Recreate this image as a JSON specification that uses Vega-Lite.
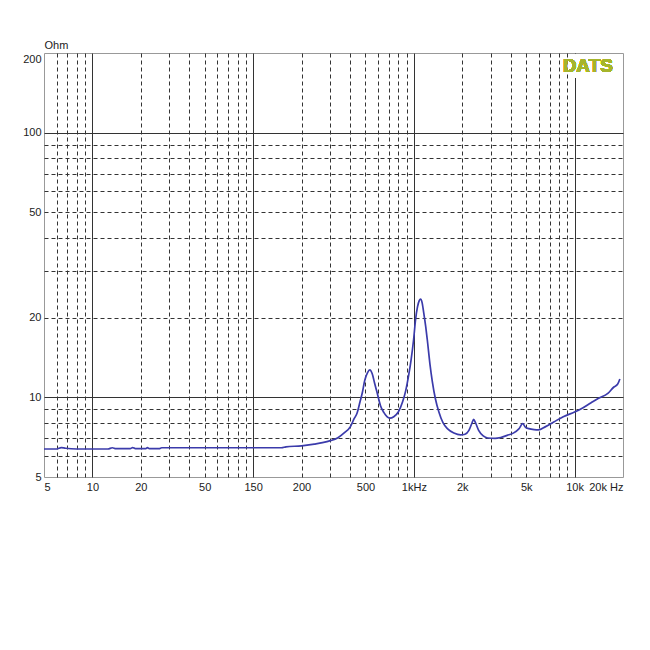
{
  "$schema": "https://vega.github.io/schema/vega-lite/v6.json",
  "width": 579,
  "height": 424,
  "autosize": "none",
  "padding": {"left": 44, "top": 53, "right": 27, "bottom": 173},
  "background": "white",
  "data": {
    "values": [
      {"hz": 5, "ohm": 6.38}, {"hz": 6, "ohm": 6.38}, {"hz": 6.4, "ohm": 6.46}, {"hz": 6.8, "ohm": 6.42},
      {"hz": 8, "ohm": 6.38}, {"hz": 10, "ohm": 6.38}, {"hz": 12.5, "ohm": 6.38}, {"hz": 13.3, "ohm": 6.45},
      {"hz": 14, "ohm": 6.4}, {"hz": 17.2, "ohm": 6.4}, {"hz": 17.8, "ohm": 6.46}, {"hz": 18.5, "ohm": 6.4},
      {"hz": 21.5, "ohm": 6.4}, {"hz": 22, "ohm": 6.46}, {"hz": 22.6, "ohm": 6.4}, {"hz": 26, "ohm": 6.4},
      {"hz": 27, "ohm": 6.45}, {"hz": 60, "ohm": 6.45}, {"hz": 100, "ohm": 6.45}, {"hz": 150, "ohm": 6.45},
      {"hz": 160, "ohm": 6.5}, {"hz": 200, "ohm": 6.56}, {"hz": 240, "ohm": 6.66}, {"hz": 270, "ohm": 6.74},
      {"hz": 303, "ohm": 6.86}, {"hz": 335, "ohm": 7.02}, {"hz": 370, "ohm": 7.35}, {"hz": 403, "ohm": 7.75},
      {"hz": 425, "ohm": 8.3}, {"hz": 444, "ohm": 8.74}, {"hz": 462, "ohm": 9.6}, {"hz": 477, "ohm": 10.36},
      {"hz": 495, "ohm": 11.6}, {"hz": 515, "ohm": 12.4}, {"hz": 532, "ohm": 12.7}, {"hz": 550, "ohm": 12.3},
      {"hz": 570, "ohm": 11.3}, {"hz": 591, "ohm": 10.4}, {"hz": 620, "ohm": 9.3}, {"hz": 650, "ohm": 8.77},
      {"hz": 680, "ohm": 8.45}, {"hz": 709, "ohm": 8.34}, {"hz": 750, "ohm": 8.45}, {"hz": 800, "ohm": 8.8},
      {"hz": 850, "ohm": 9.6}, {"hz": 890, "ohm": 10.6}, {"hz": 930, "ohm": 12.2}, {"hz": 960, "ohm": 13.8},
      {"hz": 996, "ohm": 16.5}, {"hz": 1024, "ohm": 19.6}, {"hz": 1054, "ohm": 22}, {"hz": 1080, "ohm": 23.2},
      {"hz": 1101, "ohm": 23.5}, {"hz": 1125, "ohm": 22.8}, {"hz": 1150, "ohm": 21}, {"hz": 1185, "ohm": 18.5},
      {"hz": 1212, "ohm": 16.5}, {"hz": 1260, "ohm": 13.3}, {"hz": 1302, "ohm": 11.5}, {"hz": 1360, "ohm": 9.9},
      {"hz": 1431, "ohm": 8.8}, {"hz": 1520, "ohm": 8.0}, {"hz": 1622, "ohm": 7.6}, {"hz": 1775, "ohm": 7.33},
      {"hz": 1954, "ohm": 7.21}, {"hz": 2080, "ohm": 7.25}, {"hz": 2200, "ohm": 7.5}, {"hz": 2300, "ohm": 8.0},
      {"hz": 2354, "ohm": 8.25}, {"hz": 2420, "ohm": 8.0}, {"hz": 2529, "ohm": 7.5}, {"hz": 2700, "ohm": 7.15},
      {"hz": 2879, "ohm": 7.02}, {"hz": 3200, "ohm": 7.0}, {"hz": 3468, "ohm": 7.05}, {"hz": 3800, "ohm": 7.18},
      {"hz": 4179, "ohm": 7.34}, {"hz": 4500, "ohm": 7.6}, {"hz": 4755, "ohm": 7.95}, {"hz": 4950, "ohm": 7.7},
      {"hz": 5184, "ohm": 7.62}, {"hz": 5600, "ohm": 7.55}, {"hz": 5950, "ohm": 7.53}, {"hz": 6600, "ohm": 7.75},
      {"hz": 7419, "ohm": 8.07}, {"hz": 8500, "ohm": 8.45}, {"hz": 10000, "ohm": 8.8}, {"hz": 11000, "ohm": 9.05},
      {"hz": 12600, "ohm": 9.52}, {"hz": 14000, "ohm": 9.9}, {"hz": 16100, "ohm": 10.35}, {"hz": 17545, "ohm": 10.94},
      {"hz": 18500, "ohm": 11.2}, {"hz": 19125, "ohm": 11.73}
    ]
  },
  "encoding": {
    "x": {
      "field": "hz",
      "type": "quantitative",
      "scale": {"type": "log", "domain": [5, 20000], "nice": false},
      "axis": {
        "title": null,
        "values": [5, 6, 7, 8, 9, 10, 20, 30, 40, 50, 60, 70, 80, 90, 100, 200, 300, 400, 500, 600, 700, 800, 900,
                   1000, 2000, 3000, 4000, 5000, 6000, 7000, 8000, 9000, 10000, 20000],
        "labelExpr": "datum.value == 100 ? '150' : datum.value == 1000 ? '1kHz' : datum.value == 2000 ? '2k' : datum.value == 5000 ? '5k' : datum.value == 10000 ? '10k' : datum.value == 20000 ? '20k Hz' : indexof([5, 10, 20, 50, 200, 500], datum.value) >= 0 ? '' + datum.value : ''",
        "labelFlush": true,
        "labelOverlap": false,
        "labelPadding": 4,
        "gridDash": {"condition": {"test": "indexof([10, 100, 1000, 10000], datum.value) >= 0", "value": []}, "value": [4, 3]},
        "gridOpacity": {"condition": {"test": "datum.value == 5 || datum.value == 20000", "value": 0}, "value": 1}
      }
    },
    "y": {
      "field": "ohm",
      "type": "quantitative",
      "scale": {"type": "log", "domain": [5, 200], "nice": false},
      "axis": {
        "title": "Ohm",
        "values": [5, 6, 7, 8, 9, 10, 20, 30, 40, 50, 60, 70, 80, 90, 100, 200],
        "labelExpr": "indexof([5, 10, 20, 50, 100, 200], datum.value) >= 0 ? '' + datum.value : ''",
        "labelOverlap": false,
        "labelPadding": 3,
        "labelBaseline": {"condition": {"test": "datum.value == 200", "value": "top"}, "value": "middle"},
        "titleAngle": 0,
        "titleAlign": "left",
        "titleBaseline": "alphabetic",
        "titleX": 0,
        "titleY": -5,
        "gridDash": {"condition": {"test": "indexof([10, 100], datum.value) >= 0", "value": []}, "value": [4, 3]},
        "gridOpacity": {"condition": {"test": "datum.value == 5 || datum.value == 200", "value": 0}, "value": 1}
      }
    }
  },
  "layer": [
    {
      "mark": {"type": "rect", "fill": "white"},
      "encoding": {
        "x": {"datum": 9800},
        "x2": {"datum": 19800},
        "y": {"datum": 162},
        "y2": {"datum": 197}
      }
    },
    {
      "mark": {"type": "text", "text": "DATS", "font": "Liberation Sans", "fontSize": 19, "fontWeight": "bold", "color": "#a6b52b", "align": "center", "baseline": "alphabetic"},
      "encoding": {
        "x": {"datum": 12080},
        "y": {"datum": 170}
      }
    },
    {
      "mark": {"type": "line", "color": "#3b3bab", "strokeWidth": 1.7, "interpolate": "monotone"}
    }
  ],
  "config": {
    "view": {"stroke": "#999"},
    "axis": {
      "domain": false,
      "ticks": false,
      "grid": true,
      "gridColor": "#333",
      "gridWidth": 1,
      "labelFont": "Liberation Sans",
      "labelFontSize": 11,
      "labelColor": "#222",
      "titleFont": "Liberation Sans",
      "titleFontSize": 11,
      "titleFontWeight": "normal",
      "titleColor": "#222"
    }
  }
}
